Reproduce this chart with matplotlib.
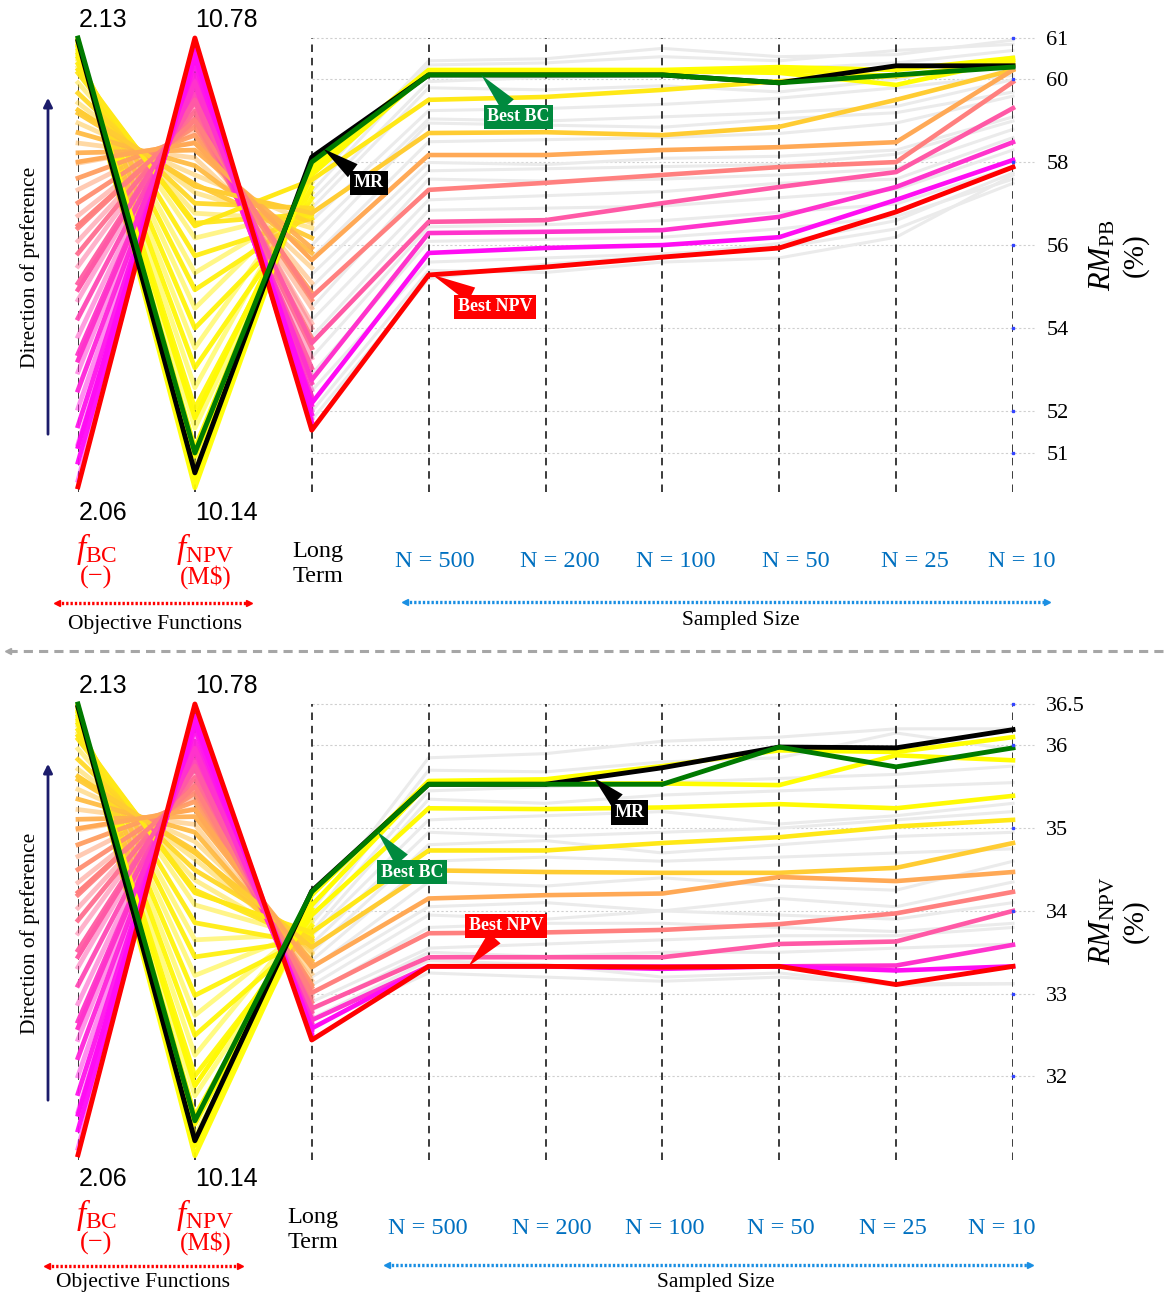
import numpy as np
import matplotlib.pyplot as plt
from matplotlib.lines import Line2D
from matplotlib.patches import FancyArrowPatch

plt.rcParams['font.family'] = 'Liberation Serif'
plt.rcParams['mathtext.fontset'] = 'custom'
plt.rcParams['mathtext.rm'] = 'Liberation Serif'
plt.rcParams['mathtext.it'] = 'Liberation Serif:italic'
plt.rcParams['mathtext.bf'] = 'Liberation Serif:bold'

W, H = 1167, 1297

# ranges of the two objective axes
bc_range = (2.06, 2.13)
npv_range = (10.14, 10.78)
sample_labels = ['N = 500', 'N = 200', 'N = 100', 'N = 50', 'N = 25', 'N = 10']

# pareto front: objectives and long term RM (PB and NPV)
sol_bc = [2.1297, 2.1294, 2.1292, 2.1289, 2.1286, 2.1285, 2.1281, 2.1278, 2.1275, 2.1272, 2.1269, 2.1265, 2.1260, 2.1255,
          2.1246, 2.1231, 2.1215, 2.1200, 2.1184, 2.1169, 2.1154, 2.1138, 2.1123, 2.1107,
          2.1084, 2.1066, 2.1046, 2.1026, 2.1007, 2.0987, 2.0968, 2.0948,
          2.0922, 2.0896, 2.0868, 2.0840, 2.0813, 2.0785, 2.0757, 2.0729, 2.0702, 2.0674, 2.0646, 2.0618]
sol_npv = [10.146, 10.174, 10.202, 10.230, 10.258, 10.287, 10.315, 10.343, 10.371, 10.399, 10.425, 10.449, 10.473, 10.498,
           10.519, 10.533, 10.547, 10.562, 10.574, 10.587, 10.600, 10.611, 10.622, 10.633,
           10.643, 10.649, 10.655, 10.660, 10.666, 10.671, 10.677, 10.683,
           10.690, 10.695, 10.701, 10.707, 10.714, 10.721, 10.728, 10.736, 10.745, 10.753, 10.763, 10.772]
sol_lt_pb = [57.99, 57.75, 57.92, 57.63, 57.39, 57.67, 57.14, 57.51, 56.90, 57.27, 56.78, 57.02, 56.66, 56.86,
             56.76, 56.61, 56.90, 56.42, 56.18, 56.54, 55.82, 55.46, 55.94, 55.10,
             54.86, 54.49, 54.69, 54.13, 53.77, 54.01, 53.53, 53.29,
             53.05, 52.86, 52.69, 52.52, 52.37, 52.28, 52.16, 52.04, 51.94, 51.84, 51.75, 51.65]
sol_lt_npv = [34.08, 33.96, 34.02, 33.90, 33.82, 33.98, 33.74, 33.86, 33.69, 33.78, 33.65, 33.72, 33.60, 33.67,
              33.62, 33.55, 33.65, 33.48, 33.40, 33.50, 33.33, 33.24, 33.38, 33.16,
              33.11, 33.04, 33.08, 32.97, 32.90, 32.94, 32.85, 32.80,
              32.78, 32.74, 32.70, 32.68, 32.65, 32.63, 32.61, 32.58, 32.56, 32.53, 32.51, 32.49]

# selected solutions followed over the sample sizes (long term, N=500 ... N=10)
sel_bc = [2.1298, 2.1295, 2.1288, 2.1251, 2.1189, 2.1109, 2.1011, 2.0912, 2.0803, 2.0670]
sel_npv = [10.160, 10.190, 10.244, 10.515, 10.571, 10.632, 10.664, 10.693, 10.718, 10.755]
sel_pb = [
    [57.94, 60.23, 60.23, 60.23, 60.30, 60.23, 60.52],
    [57.82, 60.20, 60.20, 60.20, 60.16, 59.87, 60.47],
    [57.70, 60.18, 60.18, 60.18, 60.23, 60.08, 60.42],
    [57.58, 59.51, 59.58, 59.75, 59.96, 60.08, 60.35],
    [56.78, 58.71, 58.73, 58.66, 58.86, 59.51, 60.23],
    [55.65, 58.18, 58.18, 58.30, 58.37, 58.49, 60.23],
    [54.76, 57.34, 57.51, 57.70, 57.89, 58.01, 59.94],
    [53.65, 56.57, 56.61, 57.02, 57.41, 57.77, 59.31],
    [52.76, 56.30, 56.33, 56.37, 56.69, 57.41, 58.49],
    [52.20, 55.82, 55.94, 56.01, 56.20, 57.10, 58.06],
]
sel_rmnpv = [
    [34.19, 35.57, 35.59, 35.75, 35.94, 35.92, 36.10],
    [34.07, 35.54, 35.54, 35.54, 35.52, 35.88, 35.82],
    [33.95, 35.24, 35.23, 35.25, 35.29, 35.24, 35.39],
    [33.74, 34.73, 34.73, 34.82, 34.89, 35.02, 35.10],
    [33.56, 34.49, 34.47, 34.46, 34.46, 34.52, 34.82],
    [33.32, 34.15, 34.19, 34.21, 34.41, 34.36, 34.47],
    [33.01, 33.73, 33.74, 33.77, 33.84, 33.97, 34.23],
    [32.82, 33.44, 33.44, 33.44, 33.60, 33.63, 34.00],
    [32.68, 33.33, 33.33, 33.33, 33.33, 33.34, 33.59],
    [32.58, 33.33, 33.33, 33.30, 33.33, 33.28, 33.33],
]

# highlighted solutions
bestbc_obj = [2.1300, 10.195]
bestbc_pb = [58.01, 60.11, 60.11, 60.11, 59.92, 60.11, 60.30]
bestbc_rmnpv = [34.23, 35.53, 35.53, 35.53, 35.98, 35.74, 35.97]
bestnpv_obj = [2.0608, 10.780]
bestnpv_pb = [51.55, 55.29, 55.48, 55.72, 55.94, 56.81, 57.89]
bestnpv_rmnpv = [32.44, 33.33, 33.33, 33.32, 33.33, 33.11, 33.33]
mr_obj = [2.1295, 10.167]
mr_pb = [58.13, 60.11, 60.11, 60.11, 59.92, 60.33, 60.33]
mr_rmnpv = [34.24, 35.53, 35.53, 35.73, 35.98, 35.97, 36.19]

# remaining solutions (grey)
gray_pb = [
    [57.50, 60.45, 60.50, 60.75, 60.55, 60.60, 60.95],
    [57.30, 60.35, 60.40, 60.55, 60.45, 60.70, 60.85],
    [57.10, 59.95, 60.05, 60.10, 60.25, 60.40, 60.70],
    [56.90, 59.80, 59.75, 59.85, 59.70, 60.00, 60.55],
    [56.60, 59.25, 59.30, 59.40, 59.55, 59.80, 60.10],
    [56.30, 59.05, 59.00, 59.10, 59.20, 59.35, 60.00],
    [56.00, 58.95, 58.90, 58.85, 59.05, 59.20, 59.70],
    [55.70, 58.50, 58.55, 58.60, 58.70, 58.95, 59.60],
    [55.30, 58.00, 57.95, 58.10, 58.15, 58.30, 59.10],
    [55.00, 57.80, 57.85, 57.90, 57.95, 58.20, 59.00],
    [54.50, 57.60, 57.55, 57.60, 57.70, 57.85, 58.80],
    [54.20, 57.10, 57.20, 57.30, 57.50, 57.60, 58.60],
    [53.80, 56.85, 56.90, 56.95, 57.15, 57.35, 58.30],
    [53.30, 56.45, 56.50, 56.60, 56.80, 57.00, 57.90],
    [52.90, 56.10, 56.15, 56.20, 56.40, 56.70, 57.60],
    [52.50, 55.60, 55.70, 55.80, 55.95, 56.40, 57.50],
    [52.00, 55.40, 55.35, 55.60, 55.70, 56.20, 57.70],
    [51.80, 55.20, 55.55, 55.75, 56.05, 56.60, 57.75],
]
gray_rmnpv = [
    [34.00, 35.85, 35.90, 36.05, 36.10, 36.20, 36.20],
    [33.90, 35.70, 35.68, 35.80, 35.85, 36.15, 35.95],
    [33.85, 35.45, 35.50, 35.55, 35.60, 35.65, 35.75],
    [33.75, 35.35, 35.30, 35.40, 35.45, 35.50, 35.55],
    [33.70, 35.10, 35.15, 35.20, 35.05, 35.15, 35.30],
    [33.60, 34.95, 34.90, 34.95, 35.00, 35.10, 35.20],
    [33.50, 34.80, 34.85, 34.70, 34.80, 34.90, 34.95],
    [33.40, 34.60, 34.65, 34.60, 34.65, 34.70, 34.75],
    [33.30, 34.35, 34.30, 34.40, 34.30, 34.25, 34.60],
    [33.20, 34.05, 34.10, 34.00, 34.15, 34.05, 34.35],
    [33.10, 33.95, 33.90, 34.00, 33.95, 33.90, 34.10],
    [33.00, 33.80, 33.85, 33.85, 33.80, 33.75, 33.85],
    [32.90, 33.55, 33.60, 33.65, 33.70, 33.70, 33.80],
    [32.80, 33.50, 33.45, 33.50, 33.50, 33.55, 33.60],
    [32.70, 33.40, 33.35, 33.20, 33.25, 33.10, 33.12],
    [32.60, 33.25, 33.20, 33.15, 33.20, 33.12, 33.12],
]

cmap = plt.get_cmap('spring')
xs = np.arange(9)


def bc_color(b):
    t = (b - bc_range[0]) / (bc_range[1] - bc_range[0])
    return cmap(min(max(t, 0), 1) ** 1.3)


def draw_panel(ax, ylim, ticks, tick_labels, lt_vals, sel_vals, bbc, bnpv, mr, gray, notes):
    lo, hi = ylim

    def scale(v, rng):
        return lo + (v - rng[0]) / (rng[1] - rng[0]) * (hi - lo)

    ax.set_xlim(0, 8)
    ax.set_ylim(lo, hi)
    for s in ax.spines.values():
        s.set_visible(False)
    ax.set_xticks([])
    ax.yaxis.tick_right()
    ax.set_yticks(ticks)
    ax.set_yticklabels(tick_labels)
    ax.tick_params(axis='y', length=0, pad=24, labelsize=16)

    for t in ticks:
        ax.plot([2, 8.18], [t, t], color='#cfcfcf', lw=0.8, ls=(0, (2, 2)), clip_on=False, zorder=1)
    ax.plot([8] * len(ticks), ticks, 's', ms=1.5, color='#3344ff', clip_on=False, zorder=9)
    for x in xs:
        ax.plot([x, x], [lo, hi], color='#1a1a1a', lw=1.2, ls=(0, (4.5, 3.5)), zorder=2.5)

    # grey solutions across sample sizes
    for row in gray:
        ax.plot(xs[2:], row, color='#ebebeb', lw=2.2, clip_on=False, zorder=2)

    # whole front on the objective axes
    for i, (b, n, l) in enumerate(zip(sol_bc, sol_npv, lt_vals)):
        ax.plot(xs[:3], [scale(b, bc_range), scale(n, npv_range), l], color=bc_color(b),
                lw=3.4, alpha=0.95 if i % 2 == 0 else 0.5, clip_on=False, zorder=3)

    for b, n, row in zip(sel_bc, sel_npv, sel_vals):
        ax.plot(xs, [scale(b, bc_range), scale(n, npv_range)] + row, color=bc_color(b),
                lw=3.3, clip_on=False, zorder=4)

    lines = {}
    for key, obj, row, col, z in [('npv', bestnpv_obj, bnpv, '#ff0000', 5),
                                  ('mr', mr_obj, mr, '#000000', 6),
                                  ('bc', bestbc_obj, bbc, '#007a00', 7)]:
        yv = [scale(obj[0], bc_range), scale(obj[1], npv_range)] + row
        ax.plot(xs, yv, color=col, lw=3.5, clip_on=False, zorder=z)
        lines[key] = yv

    for text, key, x_at, box, fc in notes:
        ax.annotate(text, xy=(x_at, np.interp(x_at, xs, lines[key])), xytext=box,
                    ha='center', va='center', color='white', fontsize=13, fontweight='bold',
                    bbox=dict(boxstyle='square,pad=0.2', fc=fc, ec='none'),
                    arrowprops=dict(arrowstyle='wedge,tail_width=0.9,shrink_factor=0.5',
                                    fc=fc, ec='none', shrinkA=0, shrinkB=0),
                    zorder=10, annotation_clip=False)


fig = plt.figure(figsize=(W / 100, H / 100), dpi=100)


def fpos(x, y):
    return x / W, 1 - y / H


def axes_at(top, bottom):
    return fig.add_axes([78 / W, 1 - bottom / H, (1013 - 78) / W, (bottom - top) / H])


ax1 = axes_at(38, 492)
draw_panel(ax1, (50.06, 61.0), [51, 52, 54, 56, 58, 60, 61], ['51', '52', '54', '56', '58', '60', '61'],
           sol_lt_pb, sel_pb, bestbc_pb, bestnpv_pb, mr_pb, gray_pb,
           [('MR', 'mr', 2.1, (2.49, 57.51), 'black'),
            ('Best BC', 'bc', 3.45, (3.77, 59.10), '#008a3e'),
            ('Best NPV', 'npv', 3.03, (3.57, 54.52), '#ff0000')])

ax2 = axes_at(704, 1160)
draw_panel(ax2, (30.99, 36.5), [32, 33, 34, 35, 36, 36.5], ['32', '33', '34', '35', '36', '36.5'],
           sol_lt_npv, sel_rmnpv, bestbc_rmnpv, bestnpv_rmnpv, mr_rmnpv, gray_rmnpv,
           [('MR', 'mr', 4.41, (4.72, 35.19), 'black'),
            ('Best BC', 'bc', 2.56, (2.86, 34.47), '#008a3e'),
            ('Best NPV', 'npv', 3.34, (3.66, 33.82), '#ff0000')])


def span_arrow(x0, x1, y, color):
    (fx0, fy), (fx1, _) = fpos(x0, y), fpos(x1, y)
    fig.add_artist(Line2D([fx0, fx1], [fy, fy], transform=fig.transFigure, color=color,
                          lw=2.4, ls=(0, (0.7, 0.6))))
    fig.add_artist(Line2D([fx0], [fy], transform=fig.transFigure, marker='<', ms=5, color=color, ls='none'))
    fig.add_artist(Line2D([fx1], [fy], transform=fig.transFigure, marker='>', ms=5, color=color, ls='none'))


def panel_text(dy, n_x, obj_arrow, obj_lbl, smp_arrow, smp_lbl, lt_x, rm_label):
    fig.text(*fpos(103, 20 + dy), '2.13', family='Liberation Sans', fontsize=18, ha='center', va='center')
    fig.text(*fpos(226, 20 + dy), '10.78', family='Liberation Sans', fontsize=18, ha='center', va='center')
    fig.text(*fpos(103, 513 + dy), '2.06', family='Liberation Sans', fontsize=18, ha='center', va='center')
    fig.text(*fpos(226, 513 + dy), '10.14', family='Liberation Sans', fontsize=18, ha='center', va='center')
    fig.text(*fpos(97, 549 + dy), r'$f_{\rm BC}$', color='red', fontsize=24, ha='center', va='center')
    fig.text(*fpos(96, 577 + dy), '(\u2212)', color='red', fontsize=19, ha='center', va='center')
    fig.text(*fpos(205, 549 + dy), r'$f_{\rm NPV}$', color='red', fontsize=24, ha='center', va='center')
    fig.text(*fpos(206, 577 + dy), '(M$)', color='red', fontsize=18, ha='center', va='center')
    fig.text(*fpos(lt_x, 564 + dy), 'Long\nTerm', fontsize=17.5, ha='center', va='center', linespacing=1.2)
    for x, lbl in zip(n_x, sample_labels):
        fig.text(*fpos(x, 562 + dy), lbl, color='#0070c0', fontsize=17.5, ha='center', va='center')
    span_arrow(obj_arrow[0], obj_arrow[1], obj_arrow[2], '#ff0000')
    fig.text(*fpos(*obj_lbl), 'Objective Functions', fontsize=15.5, ha='center', va='center')
    span_arrow(smp_arrow[0], smp_arrow[1], smp_arrow[2], '#1a8fe3')
    fig.text(*fpos(*smp_lbl), 'Sampled Size', fontsize=15.5, ha='center', va='center')
    fig.add_artist(FancyArrowPatch(fpos(48, 437 + dy), fpos(48, 95 + dy), transform=fig.transFigure,
                                   arrowstyle='-|>', mutation_scale=13, color='#1c1c6b', lw=2))
    fig.text(*fpos(30, 267 + dy), 'Direction of preference', fontsize=15.5, rotation=90,
             ha='center', va='center')
    fig.text(*fpos(1103, 255 + dy), rm_label, fontsize=22, rotation=90, ha='center', va='center')
    fig.text(*fpos(1135, 255 + dy), '(%)', fontsize=21, rotation=90, ha='center', va='center')


panel_text(0, [435, 560, 676, 796, 915, 1022], (57, 249, 603), (155, 625), (405, 1047, 602), (741, 621),
           318, r'$RM_{\rm PB}$')
panel_text(666, [428, 552, 665, 781, 893, 1002], (47, 240, 1266), (143, 1283), (387, 1030, 1265), (716, 1283),
           313, r'$RM_{\rm NPV}$')

# separator between the two panels
sx0, sy = fpos(8, 651)
sx1, _ = fpos(1167, 651)
fig.add_artist(Line2D([sx0, sx1], [sy, sy], transform=fig.transFigure, color='#a6a6a6', lw=2.2, ls=(0, (3, 2))))
fig.add_artist(Line2D([sx0], [sy], transform=fig.transFigure, marker='<', ms=4, color='#a6a6a6', ls='none'))

fig.savefig('out.png', dpi=100)
